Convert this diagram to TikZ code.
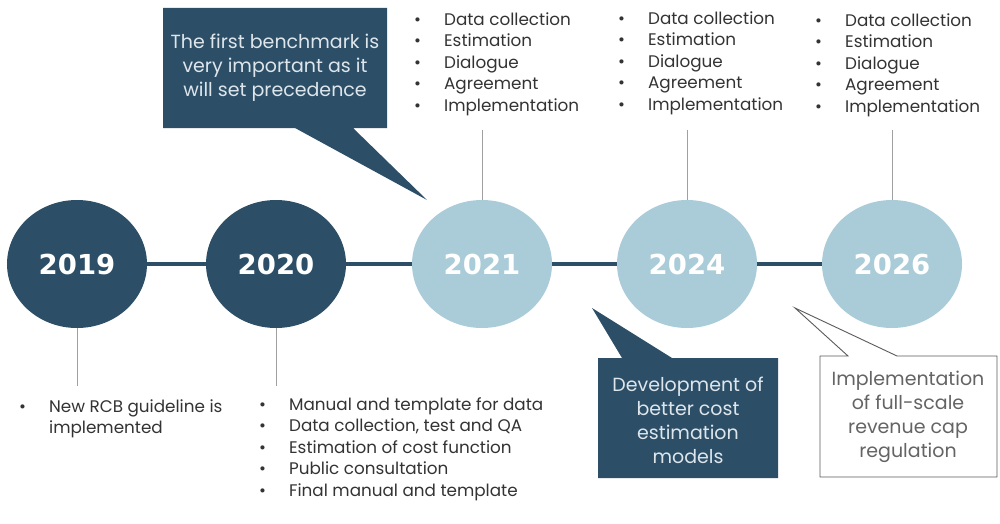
\documentclass[tikz,border=0pt]{standalone}
\usepackage{fontspec}
\setmainfont{Poppins}
\newfontfamily\yearfont{DejaVu Sans}
\usetikzlibrary{shapes.geometric}
\definecolor{navy}{RGB}{44,79,103}
\definecolor{lightblue}{RGB}{170,204,217}
\definecolor{calltext}{RGB}{222,230,236}
\definecolor{bodytext}{RGB}{51,51,51}
\definecolor{stemgray}{RGB}{160,160,160}
\definecolor{boxgray}{RGB}{90,90,90}
\definecolor{boxtext}{RGB}{100,100,100}
\tikzset{
  yearbase/.style={ellipse, minimum width=140pt, minimum height=128pt, inner sep=0pt,
    text=white, font=\yearfont\bfseries\fontsize{27.5}{27.5}\selectfont},
  darkyear/.style={yearbase, fill=navy},
  lightyear/.style={yearbase, fill=lightblue},
  timeline/.style={draw=navy, line width=4pt},
  stemline/.style={draw=stemgray, line width=0.8pt},
  bulletlist/.style={anchor=north west, inner sep=0pt, text=bodytext,
    font=\fontsize{16.8}{21.5}\selectfont},
  darkcall/.style={fill=navy},
  whitecall/.style={fill=white, draw=boxgray, line width=0.9pt},
  calltxt/.style={align=center, inner sep=0pt, text=calltext,
    font=\fontsize{19}{24}\selectfont},
  boxtxt/.style={align=center, inner sep=0pt, text=boxtext,
    font=\fontsize{19}{24}\selectfont}
}
\newcommand{\blist}[1]{\begin{tabular}{@{}l@{\hspace{23pt}}l@{}}#1\end{tabular}}
\begin{document}
\begin{tikzpicture}[x=1pt,y=-1pt]
\useasboundingbox (0,0) rectangle (1000,524);

% callout shapes
\path[darkcall] (163,8) -- (387,8) -- (387,128) -- (353,128) -- (427,200) -- (295,128) -- (163,128) -- cycle;
\path[darkcall] (598,358) -- (622,358) -- (592,308) -- (672,358) -- (778,358) -- (778,478) -- (598,478) -- cycle;
\path[whitecall] (820,356) -- (848,356) -- (795,308) -- (897,356) -- (997,356) -- (997,477) -- (820,477) -- cycle;

% year circles
\node[darkyear]  (y2019) at (77,264)  {2019};
\node[darkyear]  (y2020) at (276,264) {2020};
\node[lightyear] (y2021) at (482,264) {2021};
\node[lightyear] (y2024) at (687,264) {2024};
\node[lightyear] (y2026) at (892,264) {2026};

% timeline
\draw[timeline] (y2019) -- (y2020);
\draw[timeline] (y2020) -- (y2021);
\draw[timeline] (y2021) -- (y2024);
\draw[timeline] (y2024) -- (y2026);

% stems
\coordinate (s2019) at (77,386);
\coordinate (s2020) at (276,386);
\coordinate (s2021) at (482,130);
\coordinate (s2024) at (687,130);
\coordinate (s2026) at (892,130);
\draw[stemline] (y2019) -- (s2019);
\draw[stemline] (y2020) -- (s2020);
\draw[stemline] (y2021) -- (s2021);
\draw[stemline] (y2024) -- (s2024);
\draw[stemline] (y2026) -- (s2026);

% bullet lists
\node[bulletlist] (l2021) at (414,10) {\blist{\textbullet & Data collection\\ \textbullet & Estimation\\ \textbullet & Dialogue\\ \textbullet & Agreement\\ \textbullet & Implementation}};
\node[bulletlist] (l2024) at (618,9) {\blist{\textbullet & Data collection\\ \textbullet & Estimation\\ \textbullet & Dialogue\\ \textbullet & Agreement\\ \textbullet & Implementation}};
\node[bulletlist] (l2026) at (815,11) {\blist{\textbullet & Data collection\\ \textbullet & Estimation\\ \textbullet & Dialogue\\ \textbullet & Agreement\\ \textbullet & Implementation}};
\node[bulletlist] (l2019) at (19,397) {\blist{\textbullet & New RCB guideline is\\ & implemented}};
\node[bulletlist] (l2020) at (259,395) {\blist{\textbullet & Manual and template for data\\ \textbullet & Data collection, test and QA\\ \textbullet & Estimation of cost function\\ \textbullet & Public consultation\\ \textbullet & Final manual and template}};

% callout texts
\node[calltxt] (c1) at (275,68) {The first benchmark is\\very important as it\\will set precedence};
\node[calltxt] (c2) at (688,420) {Development of\\better cost\\estimation\\models};
\node[boxtxt] (c3) at (908,417) {Implementation\\of full-scale\\revenue cap\\regulation};
\end{tikzpicture}
\end{document}
